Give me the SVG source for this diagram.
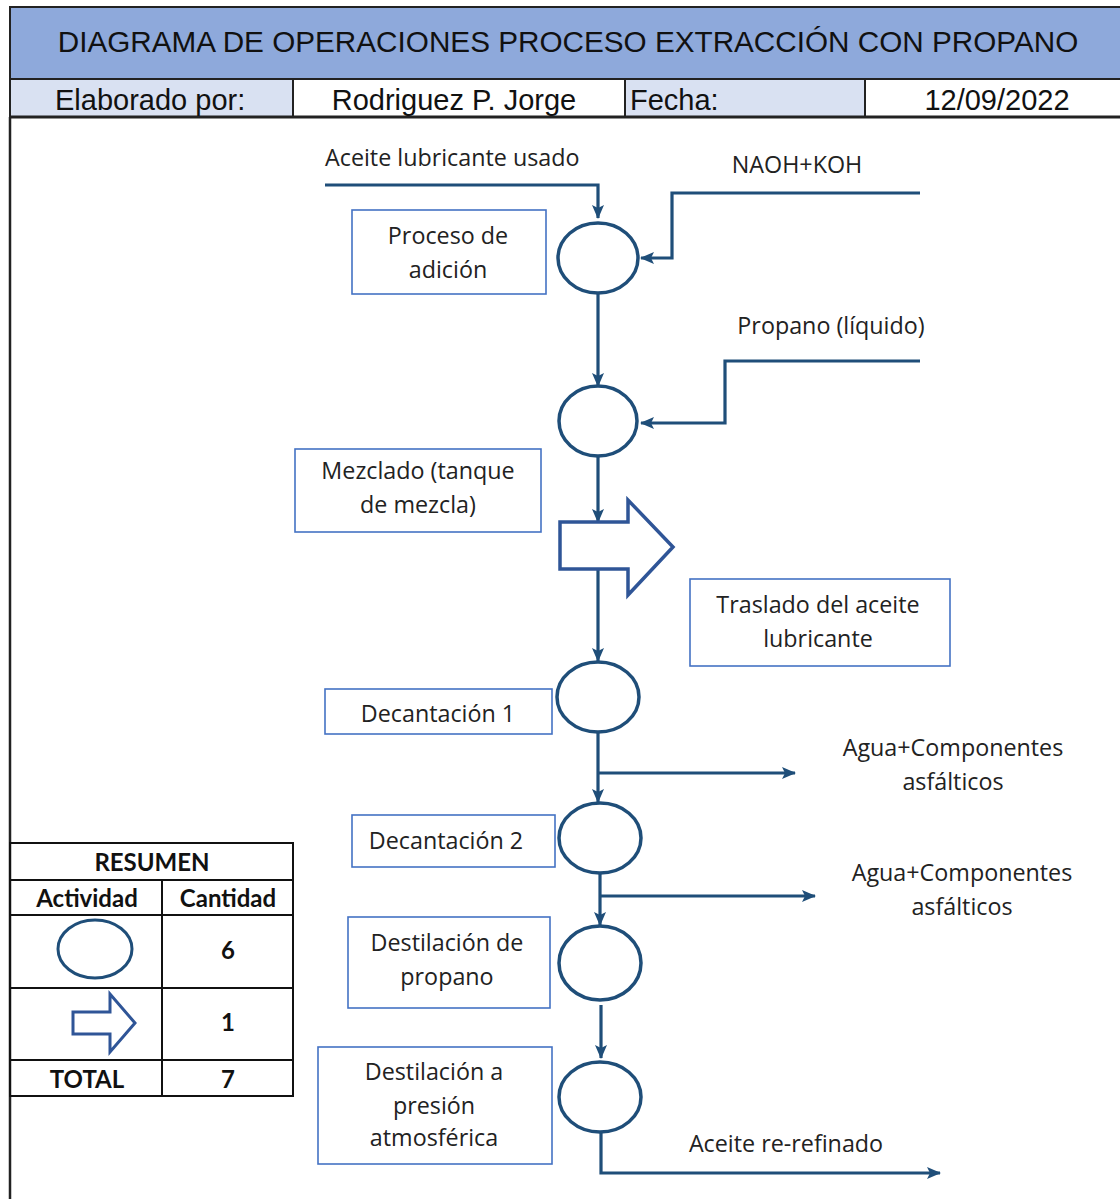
<svg xmlns="http://www.w3.org/2000/svg" width="1120" height="1199" viewBox="0 0 1120 1199">
<defs>
<style>
.hdr{font-family:"Liberation Sans",Arial,sans-serif;fill:#111;}
.t{font-family:"Open Sans",Lato,sans-serif;font-size:23.3px;fill:#222;}
.tb{font-family:Lato,"Open Sans",sans-serif;font-size:24px;font-weight:bold;fill:#111;}
.box{fill:#fff;stroke:#4472C4;stroke-width:1.6;}
.op{fill:#fff;stroke:#1F4E79;stroke-width:3.5;}
.tr{fill:#fff;stroke:#2F5597;stroke-width:3.5;}
.c{fill:none;stroke:#1F4E79;stroke-width:3.2;}
.grid{fill:none;stroke:#111;stroke-width:2;}
</style>
<marker id="ah" markerUnits="userSpaceOnUse" markerWidth="14" markerHeight="14" viewBox="0 0 14 14" refX="13" refY="7" orient="auto">
<path d="M0,1 L14,7 L0,13 L3,7 Z" fill="#1F4E79"/>
</marker>
</defs>
<rect width="1120" height="1199" fill="#fff"/>

<g id="header">
<rect x="10" y="7" width="1112" height="72" fill="#8EA9DB" stroke="#222" stroke-width="2"/>
<text class="hdr" x="568" y="52" font-size="29.7" text-anchor="middle">DIAGRAMA DE OPERACIONES PROCESO EXTRACCIÓN CON PROPANO</text>
<rect x="10" y="79" width="283" height="38" fill="#D9E1F2" stroke="#222" stroke-width="2"/>
<rect x="293" y="79" width="332" height="38" fill="#fff" stroke="#222" stroke-width="2"/>
<rect x="625" y="79" width="240" height="38" fill="#D9E1F2" stroke="#222" stroke-width="2"/>
<rect x="865" y="79" width="257" height="38" fill="#fff" stroke="#222" stroke-width="2"/>
<line x1="10" y1="117" x2="1120" y2="117" stroke="#222" stroke-width="3"/>
<text class="hdr" x="55" y="110" font-size="29">Elaborado por:</text>
<text class="hdr" x="454" y="110" font-size="29" text-anchor="middle">Rodriguez P. Jorge</text>
<text class="hdr" x="630" y="110" font-size="29">Fecha:</text>
<text class="hdr" x="997" y="110" font-size="29" text-anchor="middle">12/09/2022</text>
</g>
<line x1="10" y1="117" x2="10" y2="1199" stroke="#222" stroke-width="2.5"/>

<g id="connectors">
<path class="c" d="M325,185 H598 V218" marker-end="url(#ah)"/>
<path class="c" d="M920,193 H672 V258 H641" marker-end="url(#ah)"/>
<path class="c" d="M598,293 V386" marker-end="url(#ah)"/>
<path class="c" d="M920,361 H725 V423 H641" marker-end="url(#ah)"/>
<path class="c" d="M598,457 V522" marker-end="url(#ah)"/>
<path class="c" d="M598,569 V661" marker-end="url(#ah)"/>
<path class="c" d="M598,732 V802" marker-end="url(#ah)"/>
<path class="c" d="M598,773 H795" marker-end="url(#ah)"/>
<path class="c" d="M600,873 V925" marker-end="url(#ah)"/>
<path class="c" d="M600,896 H815" marker-end="url(#ah)"/>
<path class="c" d="M601,1005 V1058" marker-end="url(#ah)"/>
<path class="c" d="M601,1132 V1173 H940" marker-end="url(#ah)"/>
</g>

<g id="labels">
<text class="t" x="325" y="166">Aceite lubricante usado</text>
<text class="t" x="797" y="173" text-anchor="middle">NAOH+KOH</text>
<text class="t" x="831" y="334" text-anchor="middle">Propano (líquido)</text>
<text class="t" x="953" y="756" text-anchor="middle">Agua+Componentes</text>
<text class="t" x="953" y="790" text-anchor="middle">asfálticos</text>
<text class="t" x="962" y="881" text-anchor="middle">Agua+Componentes</text>
<text class="t" x="962" y="915" text-anchor="middle">asfálticos</text>
<text class="t" x="786" y="1152" text-anchor="middle">Aceite re-refinado</text>
</g>

<g id="op1"><ellipse class="op" cx="598" cy="258" rx="40" ry="35"/></g>
<g id="op2"><ellipse class="op" cx="598" cy="421" rx="39" ry="35"/></g>
<g id="transport"><polygon class="tr" points="560,522 628,522 628,500 673,547 628,595 628,569 560,569"/></g>
<g id="op3"><ellipse class="op" cx="598" cy="697" rx="41" ry="35"/></g>
<g id="op4"><ellipse class="op" cx="600" cy="838" rx="41" ry="35"/></g>
<g id="op5"><ellipse class="op" cx="600" cy="963" rx="41" ry="37"/></g>
<g id="op6"><ellipse class="op" cx="600" cy="1097" rx="41" ry="35"/></g>

<g id="box-adicion"><rect class="box" x="352" y="210" width="194" height="84"/>
<text class="t" x="448" y="244" text-anchor="middle">Proceso de</text>
<text class="t" x="448" y="278" text-anchor="middle">adición</text></g>
<g id="box-mezclado"><rect class="box" x="295" y="449" width="246" height="83"/>
<text class="t" x="418" y="479" text-anchor="middle">Mezclado (tanque</text>
<text class="t" x="418" y="513" text-anchor="middle">de mezcla)</text></g>
<g id="box-traslado"><rect class="box" x="690" y="579" width="260" height="87"/>
<text class="t" x="818" y="613" text-anchor="middle">Traslado del aceite</text>
<text class="t" x="818" y="647" text-anchor="middle">lubricante</text></g>
<g id="box-dec1"><rect class="box" x="325" y="689" width="227" height="45"/>
<text class="t" x="438" y="722" text-anchor="middle">Decantación 1</text></g>
<g id="box-dec2"><rect class="box" x="352" y="815" width="203" height="52"/>
<text class="t" x="446" y="849" text-anchor="middle">Decantación 2</text></g>
<g id="box-destprop"><rect class="box" x="348" y="917" width="202" height="91"/>
<text class="t" x="447" y="951" text-anchor="middle">Destilación de</text>
<text class="t" x="447" y="985" text-anchor="middle">propano</text></g>
<g id="box-destatm"><rect class="box" x="318" y="1047" width="234" height="117"/>
<text class="t" x="434" y="1080" text-anchor="middle">Destilación a</text>
<text class="t" x="434" y="1114" text-anchor="middle">presión</text>
<text class="t" x="434" y="1146" text-anchor="middle">atmosférica</text></g>

<g id="resumen">
<rect class="grid" x="10" y="843" width="283" height="253"/>
<line class="grid" x1="10" y1="880" x2="293" y2="880"/>
<line class="grid" x1="10" y1="915" x2="293" y2="915"/>
<line class="grid" x1="10" y1="988" x2="293" y2="988"/>
<line class="grid" x1="10" y1="1060" x2="293" y2="1060"/>
<line class="grid" x1="162" y1="880" x2="162" y2="1096"/>
<text class="tb" x="152" y="871" text-anchor="middle">RESUMEN</text>
<text class="tb" x="87" y="907" text-anchor="middle">Actividad</text>
<text class="tb" x="228" y="907" text-anchor="middle">Cantidad</text>
<ellipse cx="95" cy="949" rx="37" ry="29" fill="#fff" stroke="#1F4E79" stroke-width="3"/>
<text class="tb" x="228" y="959" text-anchor="middle">6</text>
<polygon points="73,1012 110,1012 110,994 135,1023 110,1052 110,1034 73,1034" fill="#fff" stroke="#2F5597" stroke-width="3"/>
<text class="tb" x="228" y="1031" text-anchor="middle">1</text>
<text class="tb" x="87" y="1088" text-anchor="middle">TOTAL</text>
<text class="tb" x="228" y="1088" text-anchor="middle">7</text>
</g>
</svg>
